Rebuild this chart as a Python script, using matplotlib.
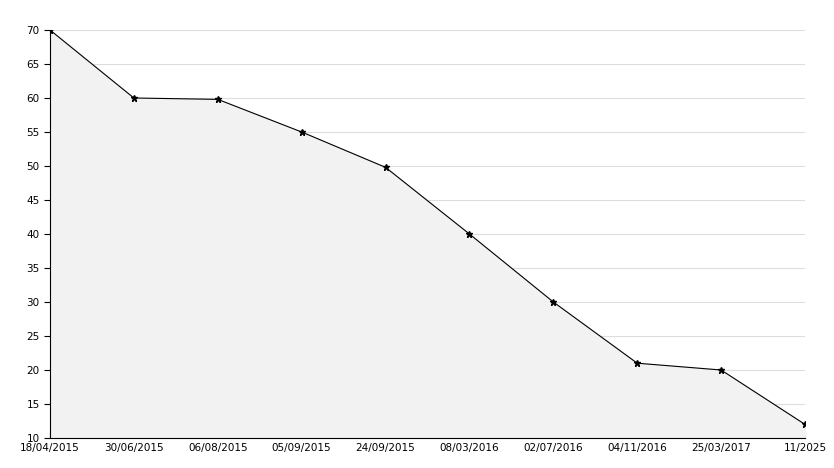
import matplotlib
matplotlib.use("Agg")
import matplotlib.pyplot as plt
from matplotlib.ticker import MultipleLocator

dates = ["18/04/2015", "30/06/2015", "06/08/2015", "05/09/2015", "24/09/2015",
         "08/03/2016", "02/07/2016", "04/11/2016", "25/03/2017", "11/2025"]
values = [70, 60, 59.8, 55, 49.8, 40, 30, 21, 20, 12]

fig = plt.figure(figsize=(8.34, 4.68), dpi=100)
ax = fig.add_axes([50 / 834, 30 / 468, 755 / 834, 408 / 468])

xs = list(range(len(dates)))
ax.fill_between(xs, values, 10, color="#f2f2f2", zorder=1)
ax.plot(xs, values, color="black", lw=0.8, marker="*", ms=5, zorder=3)

ax.set_xlim(0, len(dates) - 1)
ax.set_ylim(10, 70)
ax.set_xticks(xs)
ax.set_xticklabels(dates)
ax.yaxis.set_major_locator(MultipleLocator(5))
ax.yaxis.set_minor_locator(MultipleLocator(1))
ax.grid(axis="y", which="major", color="#dddddd", lw=0.8, zorder=0)
ax.set_axisbelow(True)

for s in ["top", "right"]:
    ax.spines[s].set_visible(False)
ax.tick_params(axis="x", direction="in", length=4, labelsize=7.5)
ax.tick_params(axis="y", which="major", direction="out", length=4, labelsize=7.5)
ax.tick_params(axis="y", which="minor", direction="in", length=3)

fig.savefig("out.png", dpi=100, facecolor="white")
